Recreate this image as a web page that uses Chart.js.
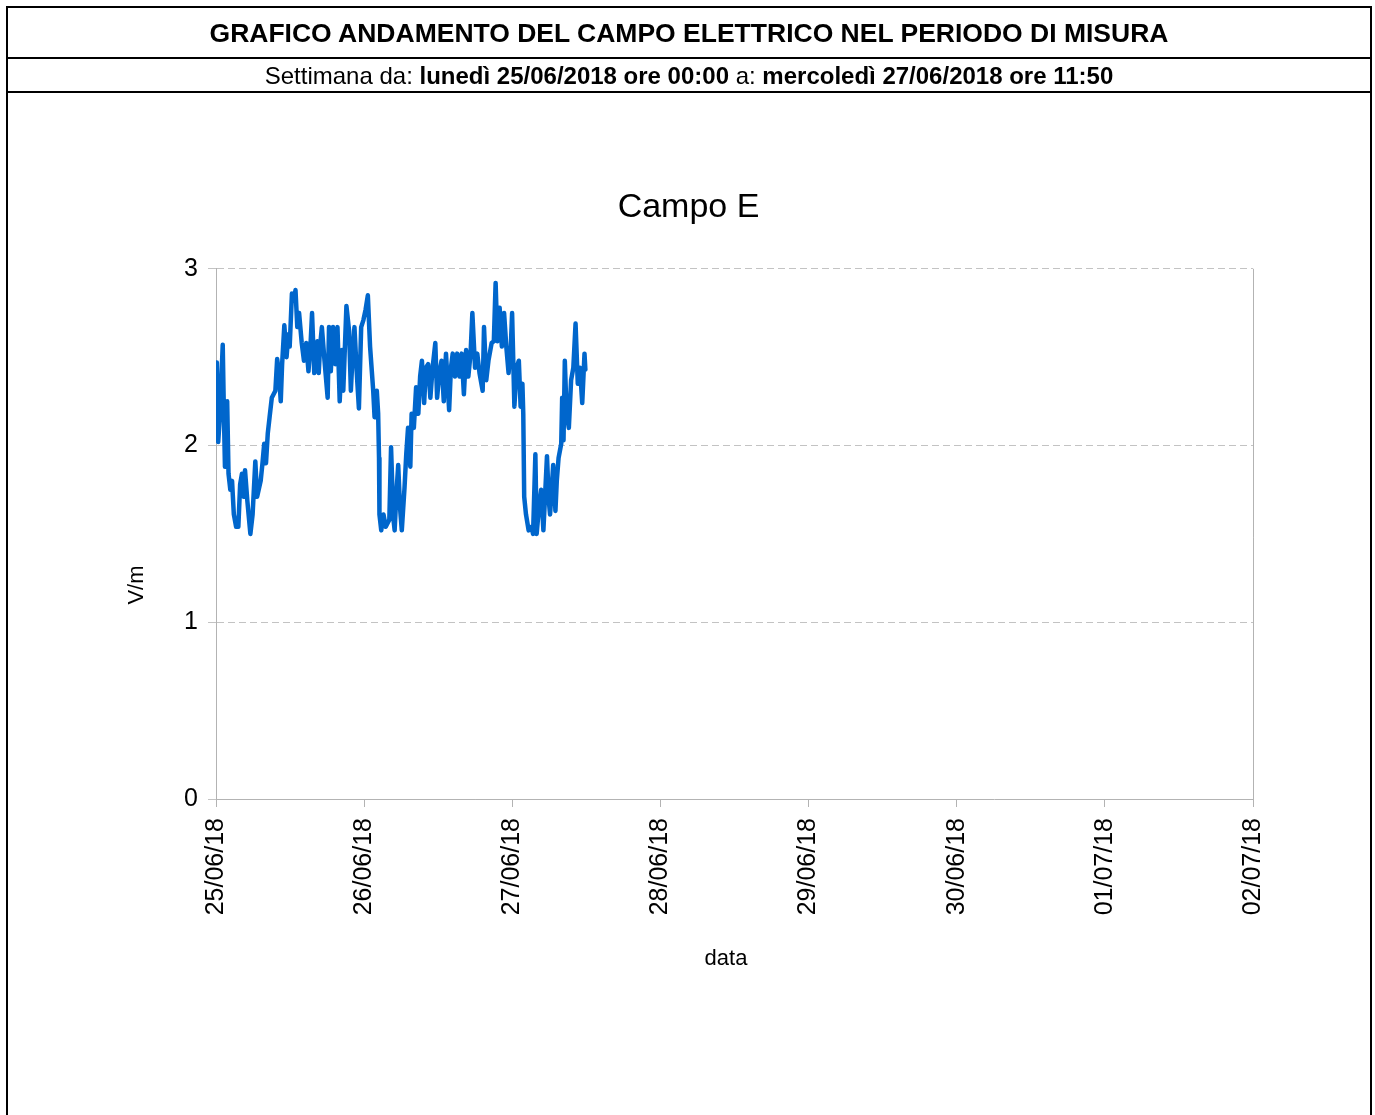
<!DOCTYPE html>
<html>
<head>
<meta charset="utf-8">
<script src="https://cdn.jsdelivr.net/npm/chart.js@4"></script>
<style>
  html, body { margin: 0; padding: 0; background: #fff; }
  body { width: 1375px; height: 1115px; position: relative; overflow: hidden; font-family: "Liberation Sans", Arial, sans-serif; }
  #chart { position: absolute; left: 0; top: 0; }
  .box { position: absolute; left: 6px; top: 6px; width: 1362px; height: 1200px; border: 2px solid #000; border-bottom: none; }
  .row { position: absolute; left: 6px; width: 1366px; text-align: center; color: #000; }
  #titolo { top: 8px; height: 49px; line-height: 50px; font-size: 26.5px; font-weight: bold; border-bottom: 2px solid #000; }
  #sottotitolo { top: 59px; height: 32px; line-height: 33px; font-size: 24px; border-bottom: 2px solid #000; }
</style>
</head>
<body>
<canvas id="chart" width="1375" height="1115"></canvas>
<div class="box"></div>
<div class="row" id="titolo">GRAFICO ANDAMENTO DEL CAMPO ELETTRICO NEL PERIODO DI MISURA</div>
<div class="row" id="sottotitolo">Settimana da: <b>lunedì 25/06/2018 ore 00:00</b> a: <b>mercoledì 27/06/2018 ore 11:50</b></div>
<script>
// etichette asse x (un giorno ogni 24 ore)
const dateLabels = ['25/06/18', '26/06/18', '27/06/18', '28/06/18', '29/06/18', '30/06/18', '01/07/18', '02/07/18'];
const yTicks = [0, 1, 2, 3];

// ore dall'inizio della misura (25/06 00:00)
const ore = [
  0.00, 0.14, 0.36, 0.65, 1.09, 1.30, 1.45, 1.81, 2.03, 2.32, 2.60, 2.89, 3.26, 3.62, 3.91, 4.20,
  4.49, 4.70, 5.07, 5.57, 5.93, 6.37, 6.66, 7.24, 7.53, 7.81, 8.10, 8.39, 8.68, 9.04, 9.62, 9.91,
  10.20, 10.49, 10.71, 11.07, 11.43, 11.72, 11.94, 12.30, 12.59, 12.88, 13.17, 13.46, 13.89, 14.25,
  14.62, 14.98, 15.34, 15.56, 15.92, 16.21, 16.43, 16.64, 16.86, 17.15, 17.58, 18.09, 18.31, 18.60,
  18.96, 19.32, 19.68, 20.04, 20.41, 20.62, 21.13, 21.56, 21.85, 22.14, 22.43, 22.79, 23.15, 23.52,
  23.88, 24.24, 24.60, 24.96, 25.47, 25.69, 26.05, 26.27, 26.41, 26.48, 26.77, 27.13, 27.50, 28.08,
  28.36, 28.73, 28.94, 29.23, 29.52, 29.81, 30.10, 30.54, 30.82, 31.11, 31.48, 31.69, 32.05, 32.42,
  32.78, 33.07, 33.36, 33.72, 34.01, 34.37, 34.73, 35.09, 35.53, 35.82, 36.18, 36.54, 36.90, 37.26,
  37.77, 38.06, 38.35, 38.71, 39.07, 39.44, 39.80, 40.16, 40.52, 40.88, 41.24, 41.53, 41.97, 42.33,
  42.69, 43.20, 43.42, 43.78, 44.14, 44.65, 45.01, 45.30, 45.59, 45.95, 46.31, 46.67, 47.03, 47.40,
  47.76, 47.97, 48.34, 48.70, 49.06, 49.35, 49.64, 49.78, 49.93, 50.22, 50.65, 51.09, 51.37, 51.74,
  51.95, 52.32, 52.68, 53.04, 53.62, 53.91, 54.12, 54.63, 54.99, 55.21, 55.50, 55.93, 56.08, 56.30,
  56.51, 56.80, 57.16, 57.53, 57.89, 58.25, 58.61, 58.97, 59.33, 59.70, 59.84
];

// campo elettrico in V/m
const campoE = [
  2.31, 2.47, 2.02, 2.18, 2.57, 2.14, 1.88, 2.25, 1.84, 1.75, 1.80, 1.61, 1.54, 1.54, 1.78, 1.84,
  1.71, 1.86, 1.69, 1.50, 1.61, 1.91, 1.71, 1.80, 1.90, 2.01, 1.90, 2.07, 2.16, 2.27, 2.31, 2.49,
  2.41, 2.25, 2.46, 2.68, 2.50, 2.63, 2.56, 2.86, 2.82, 2.88, 2.67, 2.75, 2.58, 2.48,
  2.58, 2.42, 2.59, 2.75, 2.41, 2.52, 2.59, 2.41, 2.56, 2.67, 2.48, 2.27, 2.67, 2.42,
  2.67, 2.46, 2.67, 2.25, 2.54, 2.31, 2.79, 2.65, 2.31, 2.52, 2.67, 2.42, 2.21, 2.67,
  2.71, 2.77, 2.85, 2.56, 2.31, 2.16, 2.31, 2.18, 1.93, 1.61, 1.52, 1.61, 1.54, 1.58,
  1.99, 1.59, 1.52, 1.73, 1.89, 1.65, 1.52, 1.76, 1.95, 2.10, 1.88, 2.18, 2.10, 2.33,
  2.18, 2.39, 2.48, 2.24, 2.44, 2.46, 2.27, 2.44, 2.58, 2.27, 2.41, 2.48, 2.25, 2.52,
  2.20, 2.44, 2.52, 2.39, 2.52, 2.39, 2.52, 2.29, 2.54, 2.39, 2.52, 2.75, 2.44, 2.52,
  2.41, 2.31, 2.67, 2.37, 2.48, 2.58, 2.59, 2.92, 2.59, 2.78, 2.56, 2.75, 2.56, 2.41,
  2.56, 2.75, 2.22, 2.44, 2.48, 2.22, 2.35, 2.18, 1.71, 1.61, 1.52, 1.54, 1.50, 1.95,
  1.50, 1.65, 1.75, 1.52, 1.94, 1.69, 1.61, 1.89, 1.63, 1.80, 1.93, 2.01, 2.27, 2.03,
  2.48, 2.18, 2.10, 2.37, 2.44, 2.69, 2.35, 2.44, 2.24, 2.52, 2.43
];

const punti = ore.map((h, i) => ({ x: h, y: campoE[i] }));

// bordo destro dell'area + titoli degli assi (posizionati come nell'originale)
const cornice = {
  id: 'cornice',
  afterDraw(chart) {
    const a = chart.chartArea;
    const c = chart.ctx;
    c.save();
    c.strokeStyle = '#b3b3b3';
    c.lineWidth = 1;
    c.beginPath();
    c.moveTo(a.right + 0.5, a.top);
    c.lineTo(a.right + 0.5, a.bottom + 8);
    c.stroke();

    c.fillStyle = '#000';
    c.font = '22px "Liberation Sans", Arial, sans-serif';
    c.textAlign = 'center';
    c.textBaseline = 'middle';
    c.fillText('data', 726, 959);
    c.translate(137, 585);
    c.rotate(-Math.PI / 2);
    c.fillText('V/m', 0, 0);
    c.restore();
  }
};

Chart.defaults.font.family = '"Liberation Sans", Arial, sans-serif';
Chart.defaults.color = '#000';

new Chart(document.getElementById('chart').getContext('2d'), {
  type: 'line',
  data: {
    datasets: [{
      label: 'Campo E',
      data: punti,
      borderColor: '#0066cc',
      borderWidth: 4.5,
      borderJoinStyle: 'round',
      borderCapStyle: 'round',
      pointRadius: 0,
      tension: 0,
      fill: false
    }]
  },
  options: {
    responsive: false,
    animation: false,
    layout: { padding: { left: 124, right: 122, top: 0, bottom: 143 } },
    plugins: {
      legend: { display: false },
      tooltip: { enabled: false },
      title: {
        display: true,
        text: 'Campo E',
        font: { size: 34, weight: 'normal' },
        color: '#000',
        padding: { top: 187, bottom: 41 }
      }
    },
    scales: {
      x: {
        type: 'linear',
        min: 0,
        max: 168,
        afterBuildTicks: (s) => { s.ticks = dateLabels.map((d, i) => ({ value: i * 24 })); },
        afterFit: (s) => { s.height = 173; },
        ticks: {
          font: { size: 25 },
          color: '#000',
          padding: 11,
          maxRotation: 90,
          minRotation: 90,
          autoSkip: false,
          callback: (v) => dateLabels[Math.round(v / 24)]
        },
        grid: { drawOnChartArea: false, drawTicks: true, tickLength: 8, color: '#b3b3b3' },
        border: { display: true, color: '#b3b3b3', width: 1 },
        title: { display: false }
      },
      y: {
        min: 0,
        max: 3,
        afterBuildTicks: (s) => { s.ticks = yTicks.map(v => ({ value: v })); },
        afterFit: (s) => { s.width = 92; },
        ticks: { font: { size: 25 }, color: '#000', padding: 10 },
        grid: { color: '#c3c3c3', tickLength: 8, drawTicks: true },
        border: { display: true, color: '#b3b3b3', width: 1, dash: [7, 4] },
        title: { display: false }
      }
    }
  },
  plugins: [cornice]
});
</script>
</body>
</html>
